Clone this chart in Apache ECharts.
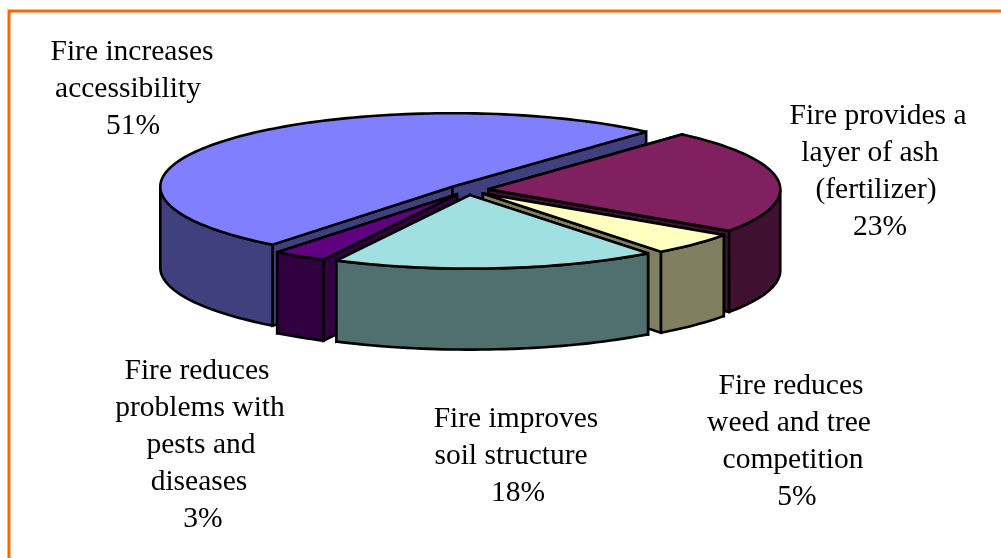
<!DOCTYPE html>
<html>
<head>
<meta charset="utf-8">
<title>Reasons for burning</title>
<style>
  html, body { margin: 0; padding: 0; background: #fff; }
  #chart { width: 1001px; height: 558px; }
</style>
<script src="https://cdn.jsdelivr.net/npm/echarts@6/dist/echarts.min.js"></script>
</head>
<body>
<div id="chart"></div>
<script>
// Share of respondents per reason, clockwise from the start angle.
const categories = [
  'Fire increases accessibility',
  'Fire provides a layer of ash (fertilizer)',
  'Fire reduces weed and tree competition',
  'Fire improves soil structure',
  'Fire reduces problems with pests and diseases'
];
const shares = [51, 23, 5, 18, 3];

// Wrapped label text for each slice; the percentage line is added from shares.
const labelLines = [
  ['Fire increases', 'accessibility'],
  ['Fire provides a', 'layer of ash', '(fertilizer)'],
  ['Fire reduces', 'weed and tree', 'competition'],
  ['Fire improves', 'soil structure'],
  ['Fire reduces', 'problems with', 'pests and', 'diseases']
];

const topColors = ['#8080FF', '#802060', '#FFFFC0', '#A0E0E0', '#600080'];
const wallColors = ['#40407F', '#401030', '#808060', '#507070', '#300040'];

// Tilted-disc projection: angles run clockwise from 12 o'clock.
const disc = { cx: 468, cy: 190, rx: 292, ry: 73.5, depth: 81, explode: 0.07, start: 218 };
const outline = { stroke: '#000', lineWidth: 2.6, lineJoin: 'miter', miterLimit: 3 };

// Centre x of each label line and y of its first line.
const labelPlace = [
  { xs: [132, 128, 133], y: 52 },
  { xs: [878, 870, 876, 880], y: 116 },
  { xs: [791, 789, 793, 797], y: 386 },
  { xs: [516, 511, 518], y: 419 },
  { xs: [197, 200, 201, 199, 203], y: 371 }
];
const labelLeading = 37;

const total = shares.reduce((a, b) => a + b, 0);
const rad = d => d * Math.PI / 180;

// Angular span of every slice, derived from its share.
const spans = [];
shares.reduce((from, v) => {
  const to = from + v / total * 360;
  spans.push({ from, to, mid: (from + to) / 2 });
  return to;
}, disc.start);

// Slices further back are painted first.
const paintRank = spans
  .map((s, i) => ({ i, back: Math.cos(rad(s.mid)) }))
  .sort((a, b) => b.back - a.back)
  .reduce((rank, o, pos) => { rank[o.i] = pos; return rank; }, {});

function arcPoints(c, from, to, dy) {
  const pts = [];
  const n = Math.max(2, Math.ceil((to - from) / 1.5));
  for (let k = 0; k <= n; k++) {
    const a = rad(from + (to - from) * k / n);
    pts.push([c[0] + disc.rx * Math.sin(a), c[1] - disc.ry * Math.cos(a) + dy]);
  }
  return pts;
}

function renderSlice(params, api) {
  const i = params.dataIndex;
  const { from, to, mid } = spans[i];
  const c = [
    disc.cx + disc.explode * disc.rx * Math.sin(rad(mid)),
    disc.cy - disc.explode * disc.ry * Math.cos(rad(mid))
  ];
  const base = paintRank[i] * 10;
  const face = (points, fill, z) => ({
    type: 'polygon',
    z2: base + z,
    shape: { points },
    style: Object.assign({ fill }, outline)
  });
  const children = [];

  // Cut faces, the one further back first.
  [from, to]
    .sort((a, b) => Math.cos(rad(b)) - Math.cos(rad(a)))
    .forEach((ang, k) => {
      const [edge] = arcPoints(c, ang, ang + 1, 0);
      children.push(face([
        c, edge, [edge[0], edge[1] + disc.depth], [c[0], c[1] + disc.depth]
      ], wallColors[i], k));
    });

  // Rim: only the stretch on the near half of the disc is visible.
  for (const [lo, hi] of [[90, 270], [450, 630]]) {
    const a = Math.max(from, lo);
    const b = Math.min(to, hi);
    if (b > a) {
      const upper = arcPoints(c, a, b, 0);
      const lower = arcPoints(c, a, b, disc.depth).reverse();
      children.push(face(upper.concat(lower), wallColors[i], 3));
    }
  }

  // Top surface.
  children.push(face([c].concat(arcPoints(c, from, to, 0)), topColors[i], 5));
  return { type: 'group', children };
}

// Real text labels, one element per line.
const labelText = [];
labelLines.forEach((lines, i) => {
  lines.concat(shares[i] + '%').forEach((text, k) => {
    labelText.push({
      type: 'text',
      x: labelPlace[i].xs[k],
      y: labelPlace[i].y + k * labelLeading,
      silent: true,
      style: {
        text,
        fill: '#000',
        font: '29.5px "Liberation Serif", "Times New Roman", serif',
        align: 'center',
        verticalAlign: 'middle'
      }
    });
  });
});

const chart = echarts.init(document.getElementById('chart'), null, { renderer: 'canvas' });
chart.setOption({
  animation: false,
  backgroundColor: '#fff',
  graphic: [
    {
      // Frame runs off the right and bottom of the page.
      type: 'rect',
      silent: true,
      shape: { x: 9, y: 11, width: 1100, height: 700 },
      style: { fill: 'none', stroke: '#FF6600', lineWidth: 3 }
    }
  ].concat(labelText),
  series: [{
    type: 'custom',
    coordinateSystem: 'none',
    silent: true,
    renderItem: renderSlice,
    data: shares.map((value, i) => ({ name: categories[i], value }))
  }]
});
</script>
</body>
</html>
